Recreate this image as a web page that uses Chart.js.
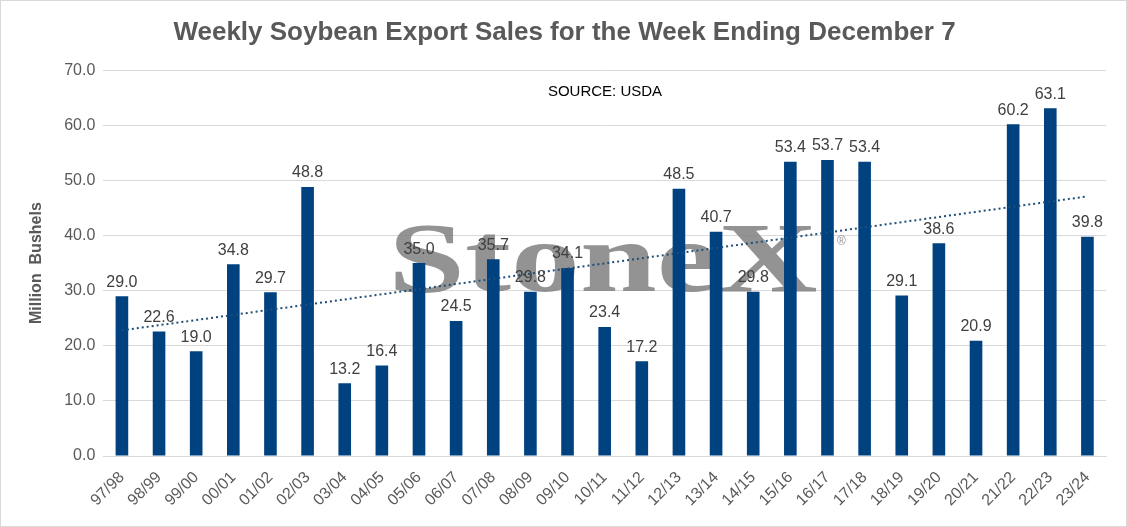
<!DOCTYPE html>
<html>
<head>
<meta charset="utf-8">
<script src="https://cdn.jsdelivr.net/npm/chart.js@4.4.0/dist/chart.umd.min.js"></script>
<style>
  html, body { margin: 0; padding: 0; background: #fff; }
  #wrap { width: 1125px; height: 525px; border: 1px solid #d9d9d9; }
</style>
</head>
<body>
<div id="wrap"><canvas id="chart" width="1125" height="525"></canvas></div>
<script>
var seasons = ['97/98', '98/99', '99/00', '00/01', '01/02', '02/03', '03/04', '04/05', '05/06', '06/07',
    '07/08', '08/09', '09/10', '10/11', '11/12', '12/13', '13/14', '14/15', '15/16', '16/17',
    '17/18', '18/19', '19/20', '20/21', '21/22', '22/23', '23/24'];
var sales = [29.0, 22.6, 19.0, 34.8, 29.7, 48.8, 13.2, 16.4, 35.0, 24.5,
    35.7, 29.8, 34.1, 23.4, 17.2, 48.5, 40.7, 29.8, 53.4, 53.7,
    53.4, 29.1, 38.6, 20.9, 60.2, 63.1, 39.8];
// trendline end points
var trendStart = 22.8;
var trendEnd = 47.1;

var trend = seasons.map(function(s, i) {
    if (i === 0) return trendStart;
    if (i === seasons.length - 1) return trendEnd;
    return null;
});

var extras = {
    id: 'extras',
    beforeDatasetsDraw: function(chart) {
        var ctx = chart.ctx;
        ctx.save();
        ctx.fillStyle = 'rgba(128,128,128,0.85)';
        ctx.translate(602, 264);
        ctx.scale(1.38, 1);
        ctx.font = 'bold 100px "Liberation Serif"';
        ctx.textAlign = 'center';
        ctx.textBaseline = 'middle';
        ctx.fillText('StoneX', 0, 0);
        ctx.restore();
        ctx.save();
        ctx.fillStyle = 'rgba(128,128,128,0.85)';
        ctx.font = '12px "Liberation Sans"';
        ctx.fillText('®', 836, 244);
        ctx.restore();
    },
    afterDatasetsDraw: function(chart) {
        var ctx = chart.ctx;
        ctx.save();
        ctx.fillStyle = '#000';
        ctx.font = '15px "Liberation Sans"';
        ctx.textAlign = 'center';
        ctx.fillText('SOURCE: USDA', 604, 95);
        ctx.fillStyle = '#404040';
        ctx.font = '16px "Liberation Sans"';
        ctx.textBaseline = 'bottom';
        chart.getDatasetMeta(0).data.forEach(function(bar, i) {
            ctx.fillText(sales[i].toFixed(1), bar.x, bar.y - 6);
        });
        ctx.restore();
    }
};

new Chart(document.getElementById('chart'), {
    type: 'bar',
    data: {
        labels: seasons,
        datasets: [{
            data: sales,
            backgroundColor: '#004280',
            categoryPercentage: 1.0,
            barPercentage: 0.34,
            order: 2
        }, {
            type: 'line',
            data: trend,
            spanGaps: true,
            borderColor: '#1f4e79',
            borderWidth: 2,
            borderDash: [2, 3],
            pointRadius: 0,
            order: 1
        }]
    },
    options: {
        responsive: false,
        animation: false,
        layout: { padding: { left: 22, right: 20, top: 4, bottom: 2 } },
        plugins: {
            legend: { display: false },
            tooltip: { enabled: false },
            title: {
                display: true,
                text: 'Weekly Soybean Export Sales for the Week Ending December 7',
                color: '#595959',
                font: { family: 'Liberation Sans', size: 26, weight: 'bold' },
                padding: { top: 12, bottom: 22 }
            }
        },
        scales: {
            x: {
                grid: { display: false },
                border: { color: '#d9d9d9' },
                ticks: {
                    color: '#595959',
                    font: { family: 'Liberation Sans', size: 16 },
                    maxRotation: 45, minRotation: 45,
                    padding: 4
                },
                afterFit: function(scale) { scale.height = 68; }
            },
            y: {
                min: 0, max: 70,
                ticks: {
                    stepSize: 10,
                    color: '#595959',
                    font: { family: 'Liberation Sans', size: 16 },
                    padding: 8,
                    callback: function(v) { return v.toFixed(1); }
                },
                grid: { color: '#d9d9d9', drawTicks: false },
                border: { display: false },
                title: {
                    display: true,
                    text: 'Million  Bushels',
                    color: '#595959',
                    padding: { bottom: 10 },
                    font: { family: 'Liberation Sans', size: 16, weight: 'bold' }
                }
            }
        }
    },
    plugins: [extras]
});
</script>
</body>
</html>
